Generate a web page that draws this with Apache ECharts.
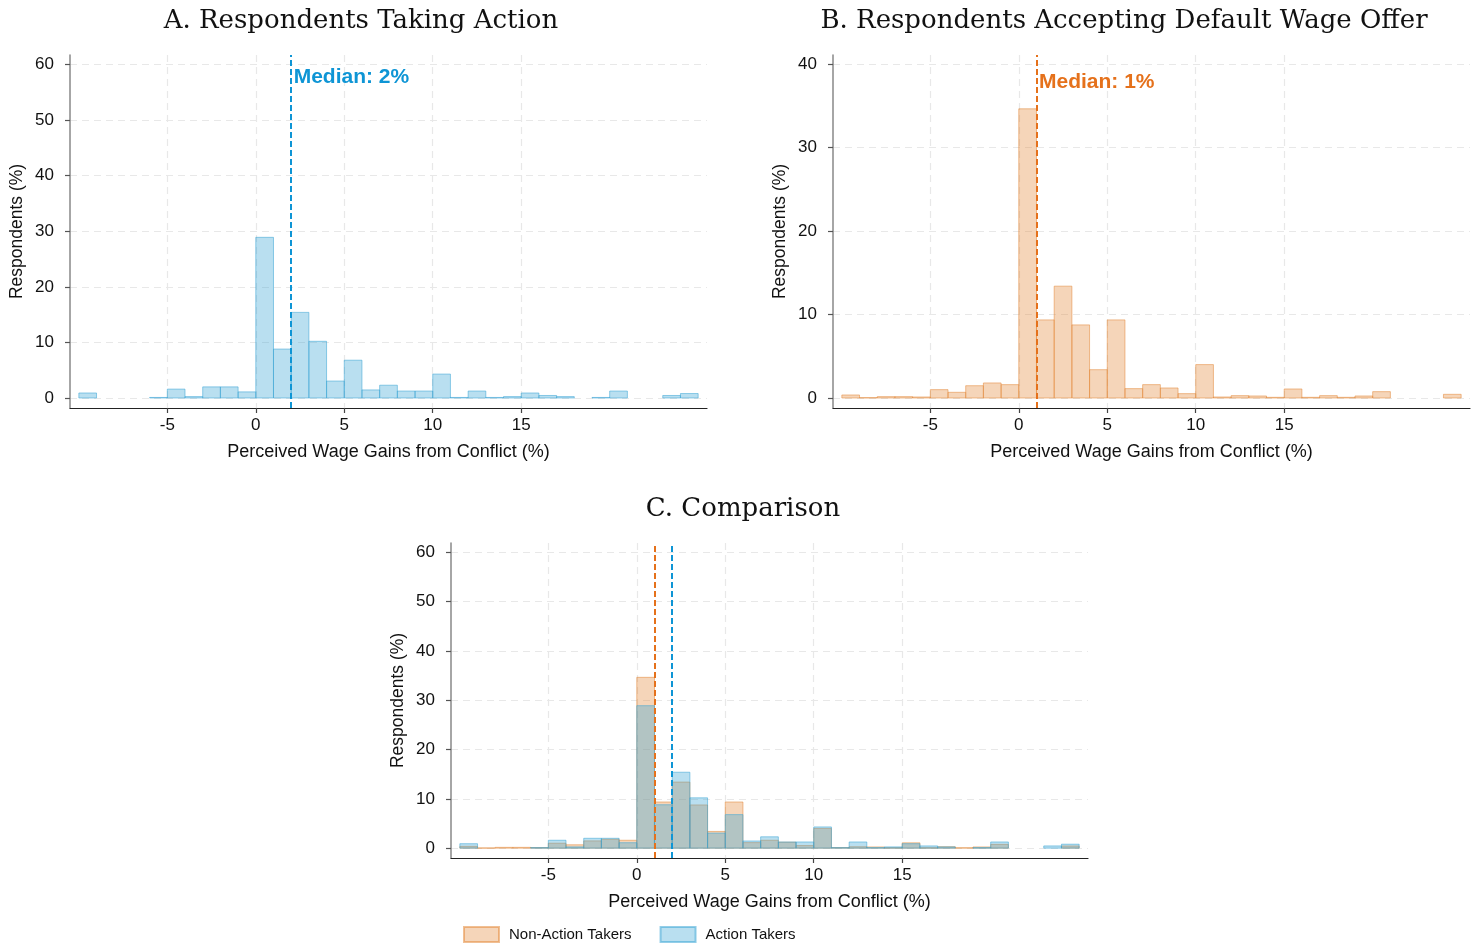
<!DOCTYPE html>
<html>
<head>
<meta charset="utf-8">
<script src="https://cdn.jsdelivr.net/npm/echarts@6/dist/echarts.min.js"></script>
<style>
  html, body { margin: 0; padding: 0; background: #ffffff; }
  #chart { width: 1481px; height: 947px; }
</style>
</head>
<body>
<div id="chart"></div>
<script>
// Histogram bins: each bin starts at the listed value and is 1 percentage point wide
const binStarts = [-10, -9, -8, -7, -6, -5, -4, -3, -2, -1, 0, 1, 2, 3, 4, 5, 6, 7, 8, 9,
                   10, 11, 12, 13, 14, 15, 16, 17, 18, 19, 20, 21, 22, 23, 24];

// Share of respondents (%) per bin
const actionTakers = [0.9, 0, 0, 0, 0.1, 1.6, 0.25, 2.0, 2.0, 1.1,
                      28.9, 8.8, 15.4, 10.2, 3.05, 6.8, 1.45, 2.3, 1.25, 1.25,
                      4.3, 0.1, 1.25, 0.1, 0.25, 0.9, 0.45, 0.25, 0, 0.1,
                      1.25, 0, 0, 0.45, 0.8];
const nonActionTakers = [0.36, 0.04, 0.16, 0.16, 0.12, 1.0, 0.68, 1.47, 1.8, 1.6,
                         34.65, 9.36, 13.4, 8.76, 3.39, 9.36, 1.12, 1.6, 1.2, 0.52,
                         4.0, 0.12, 0.28, 0.24, 0.08, 1.08, 0.08, 0.28, 0.08, 0.24,
                         0.76, 0, 0, 0, 0.44];

const actionMedian = 2;
const nonActionMedian = 1;

const xTicks = [-5, 0, 5, 10, 15];
const yTicks60 = [0, 10, 20, 30, 40, 50, 60];
const yTicks40 = [0, 10, 20, 30, 40];

const panelTitles = ['A. Respondents Taking Action',
                     'B. Respondents Accepting Default Wage Offer',
                     'C. Comparison'];
const xName = 'Perceived Wage Gains from Conflict (%)';
const yName = 'Respondents (%)';
const legendNames = ['Non-Action Takers', 'Action Takers'];

const SANS = "'Liberation Sans', Arial, Helvetica, sans-serif";
const SERIF = "'DejaVu Serif', 'Liberation Serif', serif";

const blueFill = 'rgba(60,166,213,0.36)';
const blueEdge = 'rgba(60,166,213,0.55)';
const blueLine = '#0e95d5';
const orangeFill = 'rgba(227,138,61,0.36)';
const orangeEdge = 'rgba(227,138,61,0.55)';
const orangeLine = '#e5711b';

const toPairs = vals => binStarts.map((b, i) => [b, vals[i]]);

function renderBin(params, api) {
  const x0 = api.value(0);
  const h = api.value(1);
  if (!(h > 0)) return null;
  const pLow = api.coord([x0, 0]);
  const pHigh = api.coord([x0 + 1, h]);
  return {
    type: 'rect',
    shape: { x: pLow[0], y: pHigh[1], width: pHigh[0] - pLow[0], height: pLow[1] - pHigh[1] },
    style: api.style()
  };
}

function xAxisFor(gridIndex) {
  return {
    type: 'value', gridIndex, min: -10.5, max: 25.5,
    name: xName, nameLocation: 'middle', nameGap: 35,
    nameTextStyle: { fontFamily: SANS, fontSize: 18, color: '#111' },
    axisLine: { show: true, onZero: false, lineStyle: { color: '#222', width: 1.2 } },
    axisTick: { show: true, length: 5, customValues: xTicks, lineStyle: { color: '#444', width: 1.2 } },
    axisLabel: { customValues: xTicks, fontFamily: SANS, fontSize: 17, color: '#111', margin: 9 },
    splitLine: { show: true, lineStyle: { color: '#e8e8e8', type: [7, 5], width: 1.2 } }
  };
}

function yAxisFor(gridIndex, min, max, ticks) {
  return {
    type: 'value', gridIndex, min, max,
    name: yName, nameLocation: 'middle', nameGap: 44,
    nameTextStyle: { fontFamily: SANS, fontSize: 17.5, color: '#111' },
    axisLine: { show: true, onZero: false, lineStyle: { color: '#888', width: 1.5 } },
    axisTick: { show: true, length: 5, customValues: ticks, lineStyle: { color: '#555', width: 1.2 } },
    axisLabel: { customValues: ticks, fontFamily: SANS, fontSize: 17, color: '#111', margin: 16 },
    splitLine: { show: true, lineStyle: { color: '#e8e8e8', type: [7, 5], width: 1.2 } }
  };
}

function medianLine(value, color) {
  return {
    silent: true, symbol: 'none',
    label: { show: false },
    lineStyle: { color, type: [6, 3], width: 2 },
    data: [{ xAxis: value }]
  };
}

function medianText(value, yPos, color) {
  return {
    silent: true, symbol: 'circle', symbolSize: 1,
    itemStyle: { color: 'rgba(0,0,0,0)' },
    label: {
      show: true, position: 'right', distance: 2,
      formatter: 'Median: ' + value + '%',
      fontFamily: SANS, fontWeight: 'bold', fontSize: 21, color
    },
    data: [{ coord: [value, yPos] }]
  };
}

function binSeries(name, gridIndex, vals, fill, edge) {
  return {
    type: 'custom', name,
    xAxisIndex: gridIndex, yAxisIndex: gridIndex,
    renderItem: renderBin,
    encode: { x: 0, y: 1 },
    itemStyle: { color: fill, borderColor: edge, borderWidth: 1 },
    data: toPairs(vals)
  };
}

const chart = echarts.init(document.getElementById('chart'), null, { renderer: 'canvas' });

const seriesA = binSeries('Panel A', 0, actionTakers, blueFill, blueEdge);
seriesA.markLine = medianLine(actionMedian, blueLine);
seriesA.markPoint = medianText(actionMedian, 57.7, blueLine);

const seriesB = binSeries('Panel B', 1, nonActionTakers, orangeFill, orangeEdge);
seriesB.markLine = medianLine(nonActionMedian, orangeLine);
seriesB.markPoint = medianText(nonActionMedian, 37.8, orangeLine);

const seriesCOrange = binSeries(legendNames[0], 2, nonActionTakers, orangeFill, orangeEdge);
seriesCOrange.markLine = medianLine(nonActionMedian, orangeLine);
const seriesCBlue = binSeries(legendNames[1], 2, actionTakers, blueFill, blueEdge);
seriesCBlue.markLine = medianLine(actionMedian, blueLine);

const titleStyle = { fontFamily: SERIF, fontSize: 26, fontWeight: 'normal', color: '#111' };

chart.setOption({
  animation: false,
  backgroundColor: '#ffffff',
  title: [
    { text: panelTitles[0], left: 356, top: 3, textAlign: 'center', textStyle: titleStyle },
    { text: panelTitles[1], left: 1119, top: 3, textAlign: 'center', textStyle: titleStyle },
    { text: panelTitles[2], left: 738, top: 491, textAlign: 'center', textStyle: titleStyle }
  ],
  grid: [
    { left: 70, top: 55, width: 637, height: 353 },
    { left: 833, top: 55, width: 637, height: 353 },
    { left: 451, top: 543, width: 637, height: 315 }
  ],
  xAxis: [xAxisFor(0), xAxisFor(1), xAxisFor(2)],
  yAxis: [
    yAxisFor(0, -1.8, 61.7, yTicks60),
    yAxisFor(1, -1.2, 41.1, yTicks40),
    yAxisFor(2, -2.0, 61.9, yTicks60)
  ],
  legend: {
    data: legendNames, left: 463, top: 926, padding: 0,
    icon: 'rect', itemWidth: 35, itemHeight: 15, itemGap: 28,
    textStyle: { fontFamily: SANS, fontSize: 15, color: '#111', padding: [0, 0, 0, 5] }
  },
  series: [seriesA, seriesB, seriesCOrange, seriesCBlue]
});
</script>
</body>
</html>
